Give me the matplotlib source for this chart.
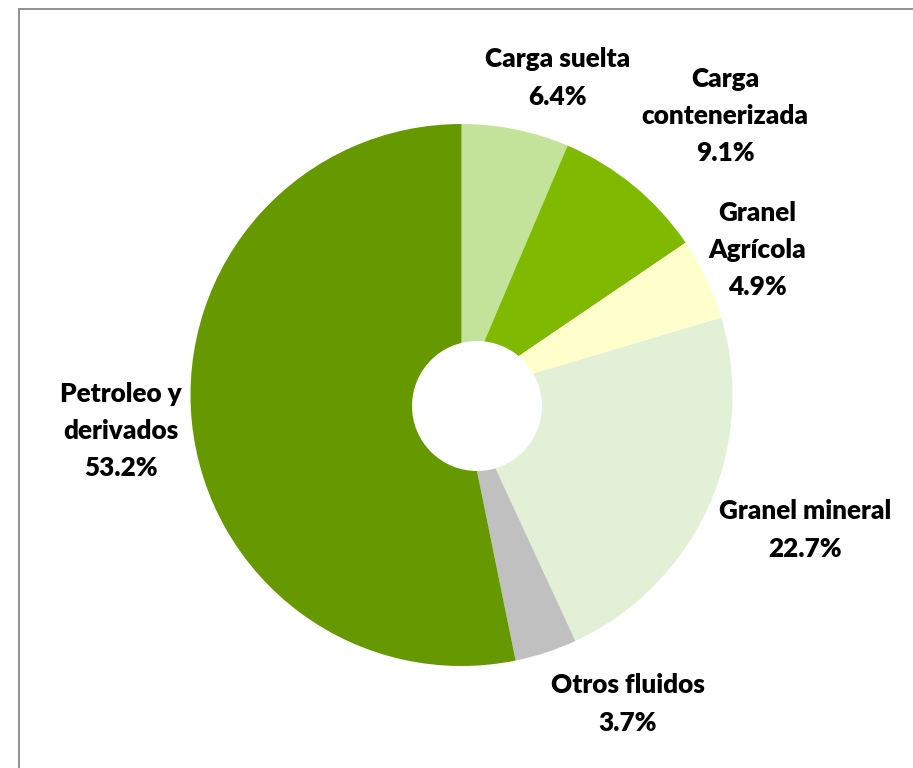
import matplotlib.pyplot as plt
from matplotlib.patches import Circle, Rectangle

W, H = 913, 768

categories = ['Carga suelta', 'Carga\ncontenerizada', 'Granel\nAgrícola',
              'Granel mineral', 'Otros fluidos', 'Petroleo y\nderivados']
shares = [6.4, 9.1, 4.9, 22.7, 3.7, 53.2]
colors = ['#C3E29A', '#7FBA00', '#FFFFCC', '#E2F0D6', '#C0C0C0', '#669900']

# label centres in pixels (x, y from top)
label_pos = [(558, 78), (725, 116), (757, 250), (805, 530), (628, 704), (121, 431)]

plt.rcParams['font.family'] = ['Lato', 'DejaVu Sans']

fig = plt.figure(figsize=(W / 100, H / 100), dpi=100)
ax = fig.add_axes([0, 0, 1, 1])

cx, cy, r = 461.5, H - 395, 271
ax.pie(shares, colors=colors, startangle=90, counterclock=False,
       center=(cx, cy), radius=r, frame=True,
       wedgeprops=dict(linewidth=0))
ax.set_xlim(0, W)
ax.set_ylim(0, H)
ax.set_aspect('auto')
ax.axis('off')

# the hole sits a little off centre
ax.add_patch(Circle((477, H - 406), 65, facecolor='white', edgecolor='none', zorder=5))

for name, val, (x, y) in zip(categories, shares, label_pos):
    ax.text(x, H - y, f'{name}\n{val:.1f}%', ha='center', va='center',
            fontsize=18.8, fontweight='heavy', color='black', linespacing=1.66, zorder=6)

ax.add_patch(Rectangle((18.5, -10), W, H - 8.5 + 10, facecolor='none',
                       edgecolor='#888888', linewidth=1.3, zorder=7))

fig.savefig('out.png', dpi=100)
